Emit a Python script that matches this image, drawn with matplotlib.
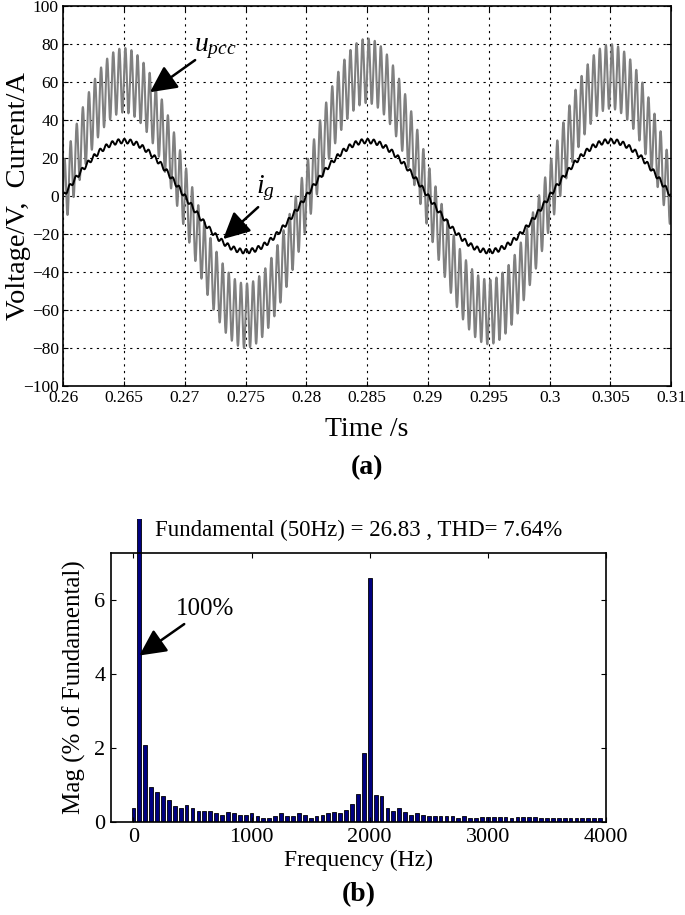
import numpy as np
import matplotlib
matplotlib.use("Agg")
import matplotlib.pyplot as plt
from matplotlib.patches import Rectangle

plt.rcParams['font.family'] = ['Liberation Serif', 'DejaVu Serif']
plt.rcParams['mathtext.fontset'] = 'custom'
plt.rcParams['mathtext.it'] = 'Liberation Serif:italic'
plt.rcParams['mathtext.rm'] = 'Liberation Serif'

# (a) waveform values
t_start, t_end = 0.26, 0.31
f_grid = 50                                 # Hz
f_ripple = 2000                             # Hz, switching ripple
u_half_peaks = [78, -80, 83, -78, 80]       # u_pcc extreme per half cycle (V)
u_ripple = 17                               # ripple amplitude on u_pcc (V)
i_peak = 29                                 # i_g peak (A)
i_ripple = 1.2                              # ripple on i_g (A)

# (b) spectrum values (% of fundamental), one bar every 50 Hz
freqs = np.arange(0, 4000, 50)
mags = [0.37, 100, 2.08, 0.95, 0.80, 0.70, 0.60, 0.44, 0.37, 0.46,
        0.37, 0.31, 0.31, 0.31, 0.24, 0.20, 0.27, 0.24, 0.20, 0.20,
        0.24, 0.15, 0.12, 0.12, 0.17, 0.24, 0.17, 0.17, 0.24, 0.20,
        0.12, 0.17, 0.20, 0.24, 0.27, 0.24, 0.33, 0.49, 0.77, 1.87,
        6.60, 0.73, 0.70, 0.37, 0.30, 0.37, 0.26, 0.20, 0.24, 0.20,
        0.17, 0.17, 0.17, 0.17, 0.15, 0.12, 0.17, 0.12, 0.12, 0.13,
        0.13, 0.13, 0.13, 0.13, 0.12, 0.13, 0.13, 0.13, 0.13, 0.10,
        0.10, 0.10, 0.10, 0.10, 0.10, 0.10, 0.10, 0.10, 0.10, 0.10]
fund_text = "Fundamental (50Hz) = 26.83 , THD= 7.64%"

# build the waveforms
t = np.linspace(t_start, t_end, 6001)
ph = 2 * np.pi * f_grid * (t - t_start)
half = np.minimum((ph // np.pi).astype(int), len(u_half_peaks) - 1)
u_amp = np.abs(np.array(u_half_peaks))[half] - u_ripple
u_pcc = u_amp * np.sin(ph) + u_ripple * np.sin(2 * np.pi * f_ripple * t)
i_g = i_peak * np.sin(ph) + i_ripple * np.sin(2 * np.pi * f_ripple * t + 1.0)

fig = plt.figure(figsize=(6.85, 9.15), dpi=100)

# ---------- (a) ----------
ax1 = fig.add_axes([0.092, 0.578, 0.888, 0.4153])
ax1.plot(t, u_pcc, color='#808080', lw=1.5)
ax1.plot(t, i_g, color='k', lw=1.4)
ax1.set_xlim(t_start, t_end)
ax1.set_ylim(-100, 100)
ax1.set_xticks(np.arange(0.26, 0.3101, 0.005))
ax1.set_xticklabels(['0.26', '0.265', '0.27', '0.275', '0.28', '0.285',
                     '0.29', '0.295', '0.3', '0.305', '0.31'])
ax1.set_yticks(np.arange(-100, 101, 20))
ax1.grid(True, color='k', linestyle=(0, (2, 4)), lw=0.8)
ax1.tick_params(direction='in', top=True, right=True, labelsize=12.5, pad=3)
for s in ax1.spines.values():
    s.set_linewidth(1.2)
ax1.set_xlabel('Time /s', fontsize=20, labelpad=8)
ax1.set_ylabel('Voltage/V,  Current/A', fontsize=20.5)
ax1.yaxis.label.set_va('center')
ax1.yaxis.set_label_coords(-0.073, 0.5)
ax1.text(0.5, -0.215, '(a)', transform=ax1.transAxes, ha='center', va='center',
         fontsize=20, fontweight='bold')

arrow = dict(arrowstyle='-|>,head_length=0.9,head_width=0.45', color='k',
             lw=1.8, mutation_scale=18, shrinkA=0, shrinkB=0)
ax1.annotate('', xy=(0.26715, 54.7), xytext=(0.27086, 71.6), arrowprops=arrow)
ax1.text(0.2725, 77.5, r'$u_{pcc}$', fontsize=20, ha='center', va='center')
ax1.annotate('', xy=(0.27316, -22.6), xytext=(0.27604, -5.8), arrowprops=arrow)
ax1.text(0.2766, 4.0, r'$i_{g}$', fontsize=20, ha='center', va='center')

# ---------- (b) ----------
ax2 = fig.add_axes([0.162, 0.1016, 0.7227, 0.294])
bars = ax2.bar(freqs, mags, width=32, color='#000080', edgecolor='k', lw=0.6)
ax2.set_xlim(-190, 4000)
ax2.set_ylim(0, 7.27)
ax2.set_xticks([0, 1000, 2000, 3000, 4000])
ax2.set_yticks([0, 2, 4, 6])
ax2.tick_params(direction='in', top=True, right=True, labelsize=16, pad=4)
for s in ax2.spines.values():
    s.set_linewidth(1.2)
# fundamental bar runs past the top of the axes
clip = Rectangle((0, 0), 1, 1.126, transform=ax2.transAxes, visible=False)
ax2.add_patch(clip)
bars[1].set_clip_path(clip)
ax2.set_title(fund_text, fontsize=16.5, pad=12)
ax2.set_xlabel('Frequency (Hz)', fontsize=17, labelpad=2)
ax2.set_ylabel('Mag (% of Fundamental)', fontsize=18, labelpad=6)
ax2.text(0.5, -0.27, '(b)', transform=ax2.transAxes, ha='center', va='center',
         fontsize=20, fontweight='bold')
ax2.annotate('', xy=(50, 4.5), xytext=(430, 5.35), arrowprops=arrow)
ax2.text(610, 5.75, '100%', fontsize=18, ha='center', va='center')

fig.savefig('out.png', dpi=100)
